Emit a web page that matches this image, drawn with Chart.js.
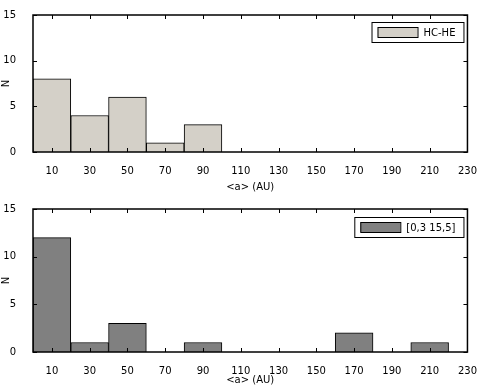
<!DOCTYPE html>
<html>
<head>
<meta charset="utf-8">
<script src="https://cdn.jsdelivr.net/npm/chart.js@4.4.0/dist/chart.umd.min.js"></script>
<style>
  html, body { margin: 0; padding: 0; background: #fff; }
  .wrap { position: absolute; left: 0; width: 482px; height: 193px; }
</style>
</head>
<body>
<div class="wrap" style="top:0"><canvas id="chart-top" width="482" height="193"></canvas></div>
<div class="wrap" style="top:193px"><canvas id="chart-bottom" width="482" height="193"></canvas></div>
<script>
// Bin centres (AU) and counts
const BIN_CENTERS = [10, 30, 50, 70, 90, 110, 130, 150, 170, 190, 210];
const TOP_COUNTS = [8, 4, 6, 1, 3, 0, 0, 0, 0, 0, 0];
const BOTTOM_COUNTS = [12, 1, 3, 0, 1, 0, 0, 0, 2, 0, 1];
const X_TICKS = [10, 30, 50, 70, 90, 110, 130, 150, 170, 190, 210, 230];
const Y_TICKS = [0, 5, 10, 15];
const TOP_LABEL = 'HC-HE';
const BOTTOM_LABEL = '[0,3 15,5]';

const FONT = { family: '"DejaVu Sans", sans-serif', size: 10 };

// Draws the frame, inward ticks on all four sides and the legend box
const framePlugin = {
    id: 'frame',
    afterDraw(chart, args, opts) {
        const { ctx, chartArea: a, scales } = chart;
        ctx.save();
        ctx.strokeStyle = '#000';
        ctx.lineWidth = 1.5;
        ctx.strokeRect(a.left, a.top, a.right - a.left, a.bottom - a.top);
        ctx.lineWidth = 1;
        const t = 4;
        X_TICKS.forEach(v => {
            const x = Math.round(scales.x.getPixelForValue(v)) + 0.5;
            ctx.beginPath();
            ctx.moveTo(x, a.bottom); ctx.lineTo(x, a.bottom - t);
            ctx.moveTo(x, a.top); ctx.lineTo(x, a.top + t);
            ctx.stroke();
        });
        Y_TICKS.forEach(v => {
            const y = Math.round(scales.y.getPixelForValue(v)) + 0.5;
            ctx.beginPath();
            ctx.moveTo(a.left, y); ctx.lineTo(a.left + t, y);
            ctx.moveTo(a.right, y); ctx.lineTo(a.right - t, y);
            ctx.stroke();
        });

        // legend
        const ds = chart.data.datasets[0];
        ctx.font = `${FONT.size}px ${FONT.family}`;
        const tw = ctx.measureText(ds.label).width;
        const boxW = opts.swatch + 8 + tw + 12;
        const bx = a.right - 4 - boxW;
        const by = a.top + opts.offsetY;
        const bh = 20;
        ctx.fillStyle = '#fff';
        ctx.fillRect(bx, by, boxW, bh);
        ctx.strokeStyle = '#000';
        ctx.strokeRect(bx + 0.5, by + 0.5, boxW, bh);
        ctx.fillStyle = ds.backgroundColor;
        ctx.fillRect(bx + 6, by + 5, opts.swatch, 10);
        ctx.strokeRect(bx + 6.5, by + 5.5, opts.swatch, 10);
        ctx.fillStyle = '#000';
        ctx.textBaseline = 'middle';
        ctx.fillText(ds.label, bx + 6 + opts.swatch + 6, by + bh / 2 + 1);
        ctx.restore();
    }
};

function makeChart(canvasId, label, counts, color, areaTop, xHeight, legendOffset, swatch) {
    const ctx = document.getElementById(canvasId).getContext('2d');
    return new Chart(ctx, {
        type: 'bar',
        data: {
            datasets: [{
                label: label,
                data: BIN_CENTERS.map((x, i) => ({ x: x, y: counts[i] })),
                backgroundColor: color,
                borderColor: '#000',
                borderWidth: 1,
                barPercentage: 1,
                categoryPercentage: 1,
                borderSkipped: 'bottom'
            }]
        },
        options: {
            responsive: false,
            animation: false,
            layout: { padding: { top: areaTop, right: 12, left: 0, bottom: 0 } },
            plugins: {
                legend: { display: false },
                tooltip: { enabled: false },
                frame: { offsetY: legendOffset, swatch: swatch }
            },
            scales: {
                x: {
                    type: 'linear',
                    offset: false,
                    min: 0,
                    max: 230,
                    grid: { display: false, offset: false },
                    border: { display: false },
                    afterBuildTicks: s => { s.ticks = X_TICKS.map(v => ({ value: v })); },
                    afterFit: s => { s.height = xHeight; },
                    ticks: { color: '#000', font: FONT, padding: 5, maxRotation: 0, autoSkip: false },
                    title: { display: true, text: '<a> (AU)', color: '#000', font: FONT, padding: { top: 1, bottom: 0 } }
                },
                y: {
                    min: 0,
                    max: 15,
                    grid: { display: false },
                    border: { display: false },
                    afterBuildTicks: s => { s.ticks = Y_TICKS.map(v => ({ value: v })); },
                    afterFit: s => { s.width = 33; },
                    ticks: { color: '#000', font: FONT, padding: 9 },
                    title: { display: true, text: 'N', color: '#000', font: FONT, padding: 0 }
                }
            }
        },
        plugins: [framePlugin]
    });
}

makeChart('chart-top', TOP_LABEL, TOP_COUNTS, '#d4d0c8', 8, 41, 7, 40);
makeChart('chart-bottom', BOTTOM_LABEL, BOTTOM_COUNTS, '#808080', 16, 34, 8, 40);
</script>
</body>
</html>
